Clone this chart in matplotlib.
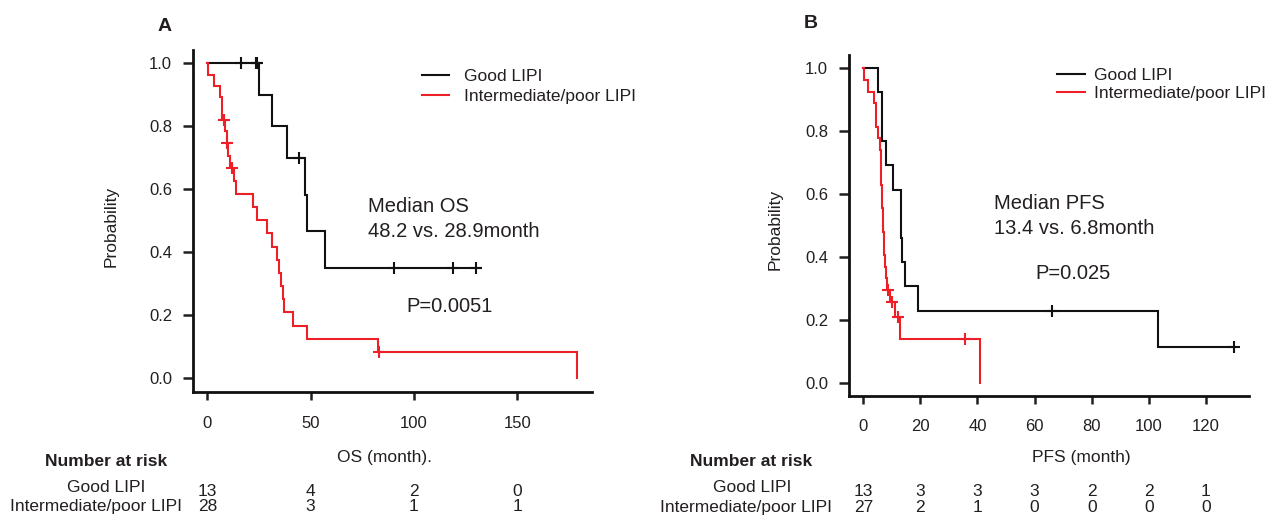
import numpy as np
import matplotlib
matplotlib.use("Agg")
import matplotlib.pyplot as plt
from matplotlib.transforms import blended_transform_factory

plt.rcParams['font.family'] = ['Liberation Sans', 'DejaVu Sans']

# ---------------- data ----------------
# Panel A: overall survival (months); step points (time, survival after step)
os_good_times = [0, 25.2, 31.1, 38.4, 47.3, 48.1, 56.9, 131.9]
os_good_surv = [1.0, 0.900, 0.800, 0.700, 0.583, 0.467, 0.350, 0.350]
os_good_cens = [16.2, 23.4, 23.9, 44.5, 90.3, 119.0, 129.8]

os_poor_times = [0, 0.2, 3.2, 6.1, 7.3, 8.6, 9.4, 10.2, 11.0, 13.1, 13.9, 22.3,
                 24.2, 29.0, 31.4, 33.9, 34.8, 35.5, 36.5, 37.3, 41.6, 48.1,
                 82.8, 178.9]
os_poor_surv = [1.0, 0.964, 0.929, 0.893, 0.821, 0.784, 0.746, 0.707, 0.668,
                0.626, 0.585, 0.543, 0.501, 0.460, 0.418, 0.376, 0.334, 0.292,
                0.251, 0.209, 0.167, 0.125, 0.083, 0.0]
os_poor_cens = [8.2, 9.7, 12.1, 83.0]

# Panel B: progression-free survival (months)
pfs_good_times = [0, 5.0, 6.7, 7.9, 10.3, 13.3, 13.6, 14.6, 19.3, 103.2, 130.5]
pfs_good_surv = [1.0, 0.923, 0.769, 0.692, 0.615, 0.462, 0.385, 0.308, 0.231,
                 0.115, 0.115]
pfs_good_cens = [66.0, 129.8]

pfs_poor_times = [0, 0.25, 1.75, 3.9, 4.3, 4.5, 5.3, 6.0, 6.1, 6.2, 6.3, 6.6,
                  6.7, 6.75, 6.8, 7.2, 7.3, 7.6, 8.0, 8.4, 9.3, 11.1, 12.9, 40.9]
pfs_poor_surv = [1.0, 0.963, 0.926, 0.889, 0.852, 0.815, 0.778, 0.741, 0.704,
                 0.667, 0.630, 0.593, 0.556, 0.519, 0.481, 0.444, 0.407, 0.370,
                 0.333, 0.296, 0.259, 0.210, 0.140, 0.0]
pfs_poor_cens = [8.8, 9.9, 12.3, 35.6]

# Number at risk
os_risk_times = [0, 50, 100, 150]
os_risk_good = [13, 4, 2, 0]
os_risk_poor = [28, 3, 1, 1]
pfs_risk_times = [0, 20, 40, 60, 80, 100, 120]
pfs_risk_good = [13, 3, 3, 3, 2, 2, 1]
pfs_risk_poor = [27, 2, 1, 0, 0, 0, 0]

group_labels = ["Good LIPI", "Intermediate/poor LIPI"]
y_ticks = [0.0, 0.2, 0.4, 0.6, 0.8, 1.0]

# ---------------- style ----------------
W, H = 1268, 516
BLACK = "#111111"
RED = "#ee2027"
TXT = "#231f20"

fig = plt.figure(figsize=(W / 100, H / 100), dpi=100)


def px_rect(l, t, r, b):
    return [l / W, 1 - b / H, (r - l) / W, (b - t) / H]


def surv_at(times, surv, c):
    i = np.searchsorted(times, c, side="right") - 1
    return surv[i]


def km(ax, times, surv, cens, color, label):
    times = np.asarray(times, float)
    surv = np.asarray(surv, float)
    ax.step(times, surv, where="post", color=color, lw=1.5, label=label,
            solid_joinstyle="miter")
    cy = [surv_at(times, surv, c) for c in cens]
    ax.plot(cens, cy, ls="none", marker="+", ms=9, mew=1.5, color=color)


def style_axes(ax, xlim, ylim, xticks):
    ax.set_xlim(*xlim)
    ax.set_ylim(*ylim)
    ax.set_xticks(xticks)
    ax.set_yticks(y_ticks)
    ax.set_yticklabels([f"{v:.1f}" for v in y_ticks])
    for s in ("top", "right"):
        ax.spines[s].set_visible(False)
    for s in ("left", "bottom"):
        ax.spines[s].set_linewidth(2.0)
        ax.spines[s].set_color(BLACK)
    ax.tick_params(axis="y", length=7.2, width=1.8, pad=8.0, labelsize=12,
                   colors=TXT)
    ax.tick_params(axis="x", length=6, width=1.8, pad=11, labelsize=12,
                   colors=TXT)
    ax.patch.set_alpha(0)


# ---------------- Panel A ----------------
axA = fig.add_axes(px_rect(193.3, 50, 591.7, 392.3))
km(axA, os_good_times, os_good_surv, os_good_cens, BLACK, group_labels[0])
km(axA, os_poor_times, os_poor_surv, os_poor_cens, RED, group_labels[1])
style_axes(axA, (-6.77, 186.0), (-0.0444, 1.042), os_risk_times)
axA.set_ylabel("Probability", fontsize=12.5, color=TXT)
axA.yaxis.set_label_coords(-0.188, 0.486)
axA.set_xlabel("OS (month).", fontsize=12.5, color=TXT)
axA.xaxis.set_label_coords(0.481, -0.170)
axA.legend(loc="upper left", bbox_to_anchor=(0.573, 0.945), frameon=False,
           fontsize=12.5, handlelength=1.6, handletextpad=0.85,
           labelspacing=0.3, borderaxespad=0, borderpad=0,
           labelcolor=TXT)
axA.text(0.4385, 0.544, "Median OS", transform=axA.transAxes, fontsize=14.5,
         va="center", ha="left", color=TXT)
axA.text(0.4385, 0.469, "48.2 vs. 28.9month", transform=axA.transAxes,
         fontsize=14.5, va="center", ha="left", color=TXT)
axA.text(0.5356, 0.252, "P=0.0051", transform=axA.transAxes, fontsize=14.5,
         va="center", ha="left", color=TXT)

# ---------------- Panel B ----------------
axB = fig.add_axes(px_rect(849.3, 55, 1249.3, 395.5))
km(axB, pfs_good_times, pfs_good_surv, pfs_good_cens, BLACK, group_labels[0])
km(axB, pfs_poor_times, pfs_poor_surv, pfs_poor_cens, RED, group_labels[1])
style_axes(axB, (-4.9, 135.2), (-0.0387, 1.042), pfs_risk_times)
axB.set_ylabel("Probability", fontsize=12.5, color=TXT)
axB.yaxis.set_label_coords(-0.167, 0.489)
axB.set_xlabel("PFS (month)", fontsize=12.5, color=TXT)
axB.xaxis.set_label_coords(0.579, -0.1615)
axB.legend(loc="upper left", bbox_to_anchor=(0.519, 0.963), frameon=False,
           fontsize=12.5, handlelength=1.6, handletextpad=0.55,
           labelspacing=0.2, borderaxespad=0, borderpad=0,
           labelcolor=TXT)
axB.text(0.3625, 0.5645, "Median PFS", transform=axB.transAxes, fontsize=14.5,
         va="center", ha="left", color=TXT)
axB.text(0.3625, 0.491, "13.4 vs. 6.8month", transform=axB.transAxes,
         fontsize=14.5, va="center", ha="left", color=TXT)
axB.text(0.464, 0.359, "P=0.025", transform=axB.transAxes, fontsize=14.5,
         va="center", ha="left", color=TXT)

# Panel letters
fig.text(164.7 / W, 1 - 26.7 / H, "A", fontsize=14, fontweight="bold",
         ha="center", va="center", color=TXT)
fig.text(811 / W, 1 - 24 / H, "B", fontsize=14, fontweight="bold",
         ha="center", va="center", color=TXT)

# ---------------- Number at risk tables ----------------
def risk_table(ax, xs, good, poor, head_x, good_x, poor_x, ys):
    y_head, y_good_lab, y_good, y_poor = ys
    fig.text(head_x / W, 1 - y_head / H, "Number at risk", fontsize=12.5,
             fontweight="bold", ha="center", va="center", color=TXT)
    fig.text(good_x / W, 1 - y_good_lab / H, group_labels[0], fontsize=12.5,
             ha="center", va="center", color=TXT)
    fig.text(poor_x / W, 1 - y_poor / H, group_labels[1], fontsize=12.5,
             ha="center", va="center", color=TXT)
    tr = blended_transform_factory(ax.transData, fig.transFigure)
    for x, g, p in zip(xs, good, poor):
        ax.text(x, 1 - y_good / H, str(g), transform=tr, fontsize=12.5,
                ha="center", va="center", color=TXT, clip_on=False)
        ax.text(x, 1 - y_poor / H, str(p), transform=tr, fontsize=12.5,
                ha="center", va="center", color=TXT, clip_on=False)


risk_table(axA, os_risk_times, os_risk_good, os_risk_poor,
           106.5, 106, 96.5, (461, 487, 491, 506.5))
risk_table(axB, pfs_risk_times, pfs_risk_good, pfs_risk_poor,
           751, 752, 746, (462, 487, 492, 507.5))

fig.savefig("out.png", dpi=100)
